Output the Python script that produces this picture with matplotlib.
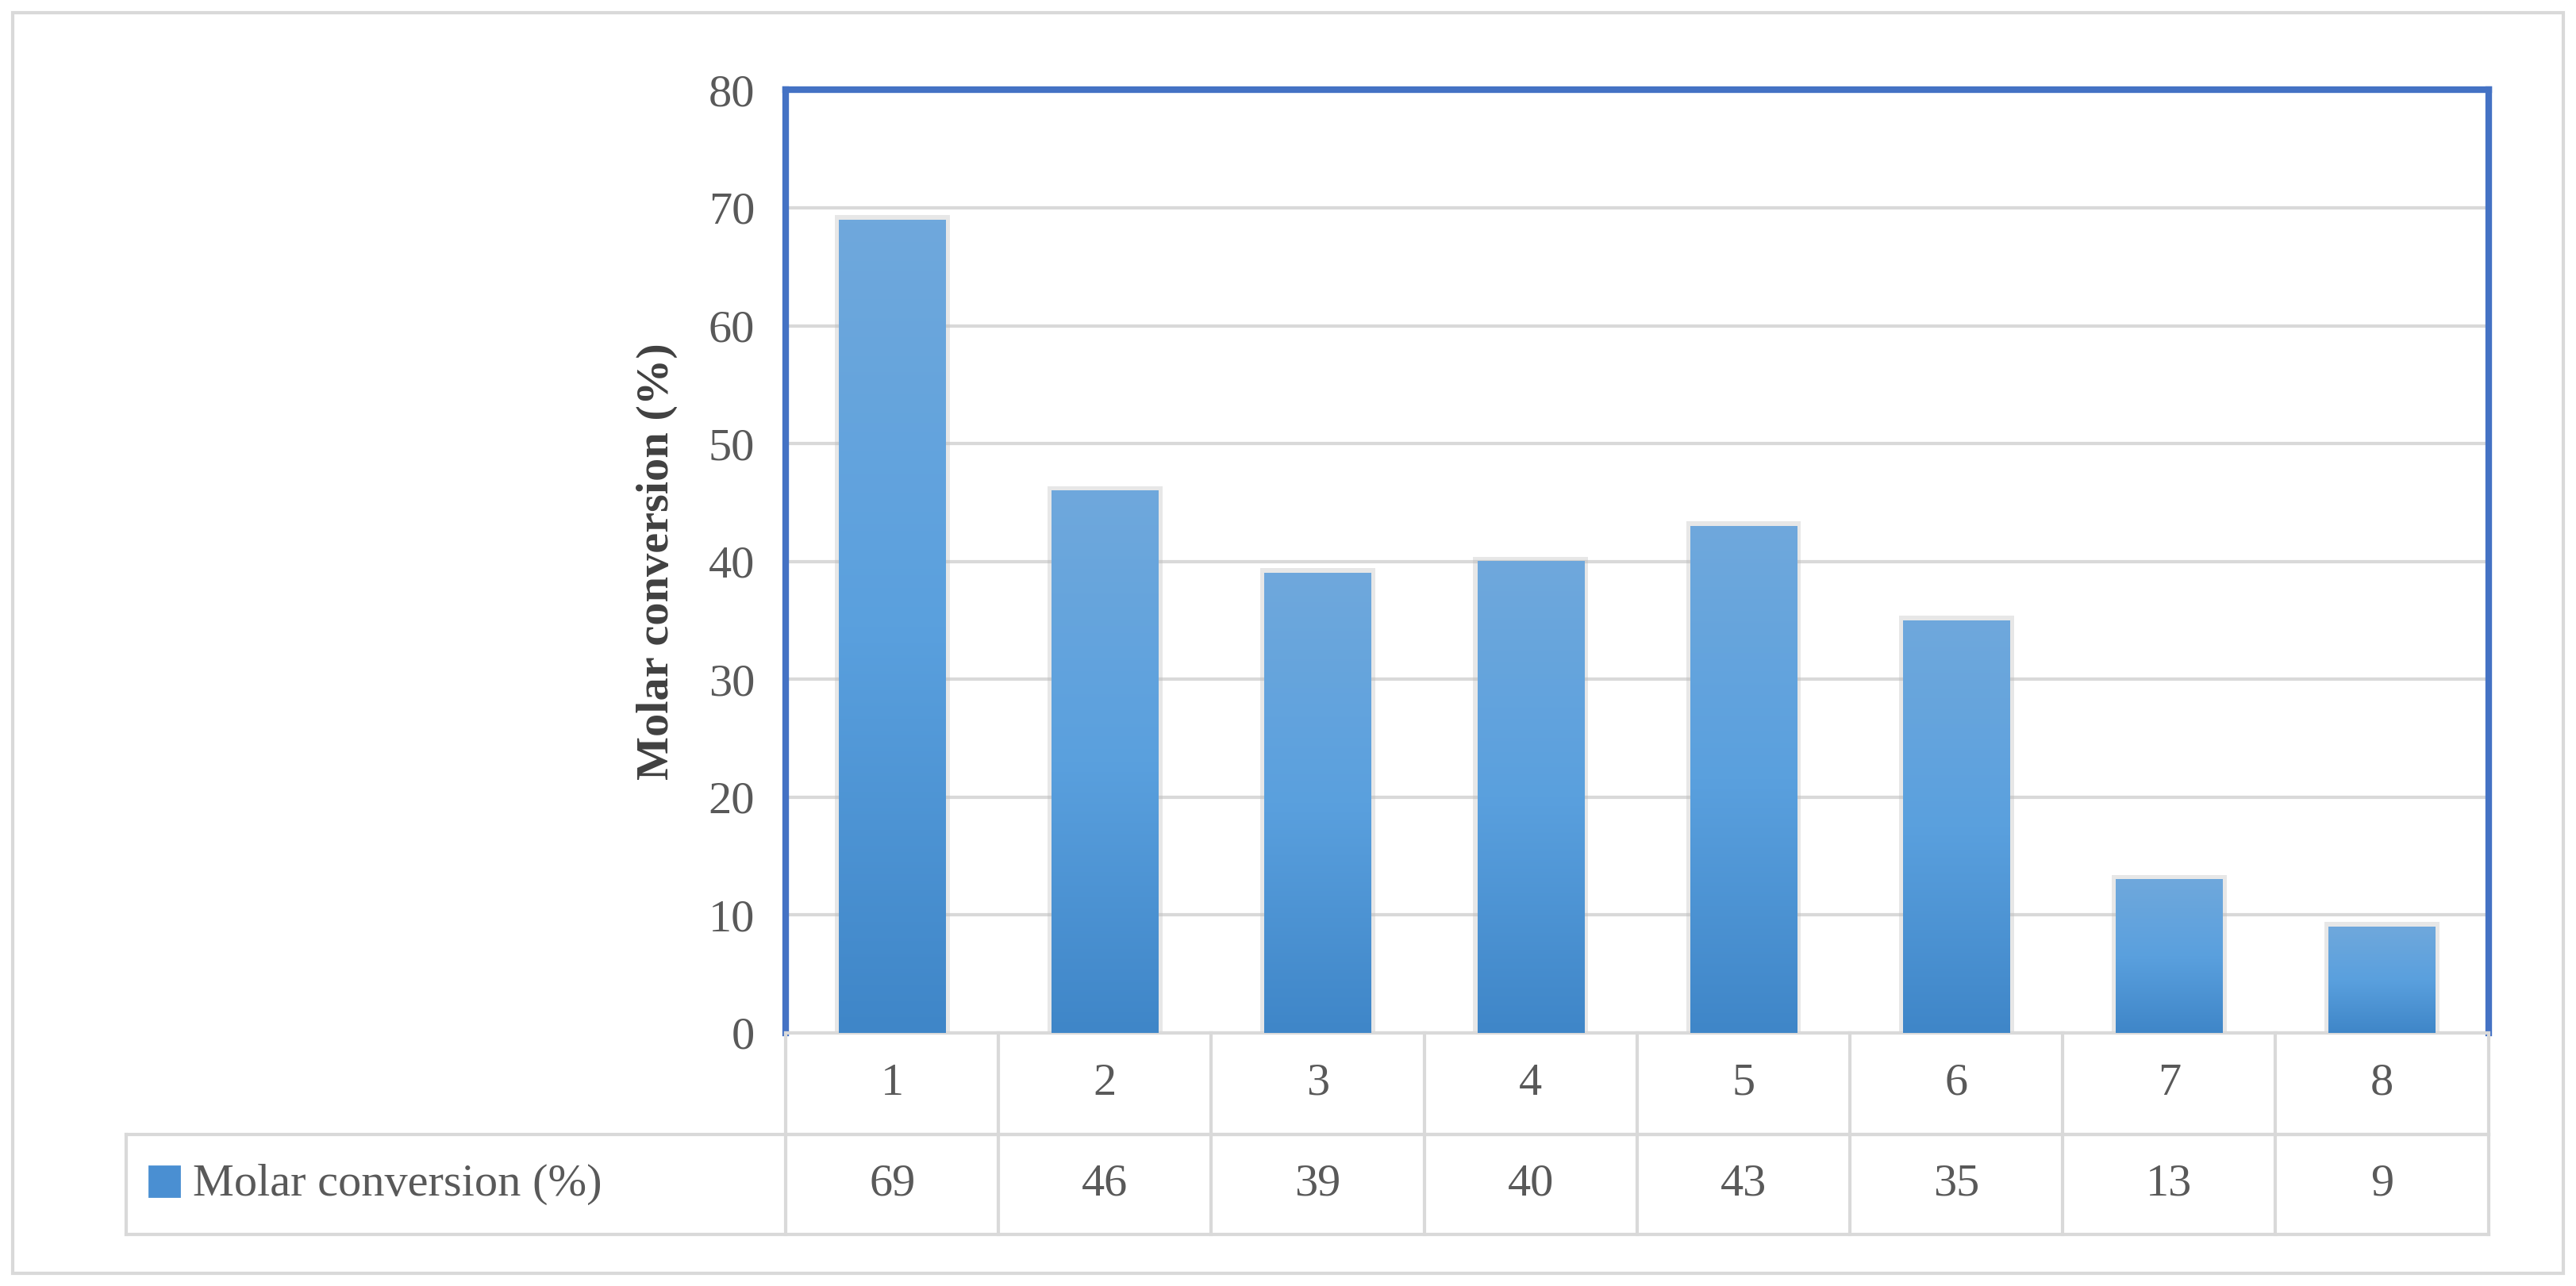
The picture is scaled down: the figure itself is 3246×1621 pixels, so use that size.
import matplotlib
matplotlib.use("Agg")
import matplotlib.pyplot as plt
import numpy as np
from matplotlib.colors import LinearSegmentedColormap
from matplotlib.patches import Rectangle
from matplotlib.lines import Line2D
import matplotlib.transforms as mt

categories = ["1", "2", "3", "4", "5", "6", "7", "8"]
values = [69, 46, 39, 40, 43, 35, 13, 9]
series_name = "Molar conversion (%)"
yticks = [0, 10, 20, 30, 40, 50, 60, 70, 80]

plt.rcParams['font.family'] = ['Liberation Serif', 'DejaVu Serif']
W, H = 3246, 1621
fig = plt.figure(figsize=(W/200, H/200), dpi=200)
L, R, B, T = 0.305, 0.966, 0.197, 0.930
ax = fig.add_axes([L, B, R-L, T-B])
n = len(categories)
x = np.arange(n)
ax.set_xlim(-0.5, n-0.5)
ax.set_ylim(0, 80)
ax.set_yticks(yticks)
ax.tick_params(axis='y', length=0, labelsize=21, labelcolor='#595959', pad=14)
ax.set_xticks([])
ax.grid(axis='y', color='#D9D9D9', lw=1.5)
ax.set_axisbelow(True)
for s in ax.spines.values():
    s.set_color('#4472C4'); s.set_linewidth(3)
ax.spines['bottom'].set_color('#D9D9D9'); ax.spines['bottom'].set_linewidth(1.5)
ax.set_ylabel(series_name, fontsize=21, fontweight='bold', color='#404040', labelpad=14)

cmap = LinearSegmentedColormap.from_list('b', ['#3F86C8', '#5AA0DE', '#6FA8DC'])
grad = np.linspace(0, 1, 256).reshape(-1, 1)
bw = 0.5
for xi, v in zip(x, values):
    # soft shadow
    ax.add_patch(Rectangle((xi-bw/2-0.02, 0), bw+0.04, v+0.4, color='#BBBBBB', alpha=0.35, lw=0, zorder=2))
    ax.imshow(grad, extent=(xi-bw/2, xi+bw/2, 0, v), origin='lower', aspect='auto', cmap=cmap, zorder=3)
ax.set_xlim(-0.5, n-0.5); ax.set_ylim(0, 80)

# table below
row1 = 0.118; row2 = 0.040; tleft = 0.049
lc = '#D9D9D9'
fig.add_artist(Line2D([L, R], [row1, row1], color=lc, lw=1.5))
fig.add_artist(Line2D([tleft, R], [row1, row1], color=lc, lw=1.5))
fig.add_artist(Line2D([tleft, R], [row2, row2], color=lc, lw=1.5))
fig.add_artist(Line2D([tleft, tleft], [row2, row1], color=lc, lw=1.5))
for i in range(n+1):
    xf = L + (R-L)*i/n
    fig.add_artist(Line2D([xf, xf], [row2, B], color=lc, lw=1.5))
for i in range(n):
    xf = L + (R-L)*(i+0.5)/n
    fig.text(xf, (row1+B)/2, categories[i], ha='center', va='center', fontsize=21, color='#595959')
    fig.text(xf, (row1+row2)/2, str(values[i]), ha='center', va='center', fontsize=21, color='#595959')
fig.add_artist(Rectangle((0.058, 0.070), 0.0115, 0.023, color='#4A8FD2', transform=fig.transFigure))
fig.text(0.075, (row1+row2)/2, series_name, ha='left', va='center', fontsize=21, color='#595959')
# outer border
fig.add_artist(Rectangle((0.005, 0.010), 0.990, 0.980, fill=False, ec='#D9D9D9', lw=1.5, transform=fig.transFigure))
fig.savefig('out.png', dpi=200)
